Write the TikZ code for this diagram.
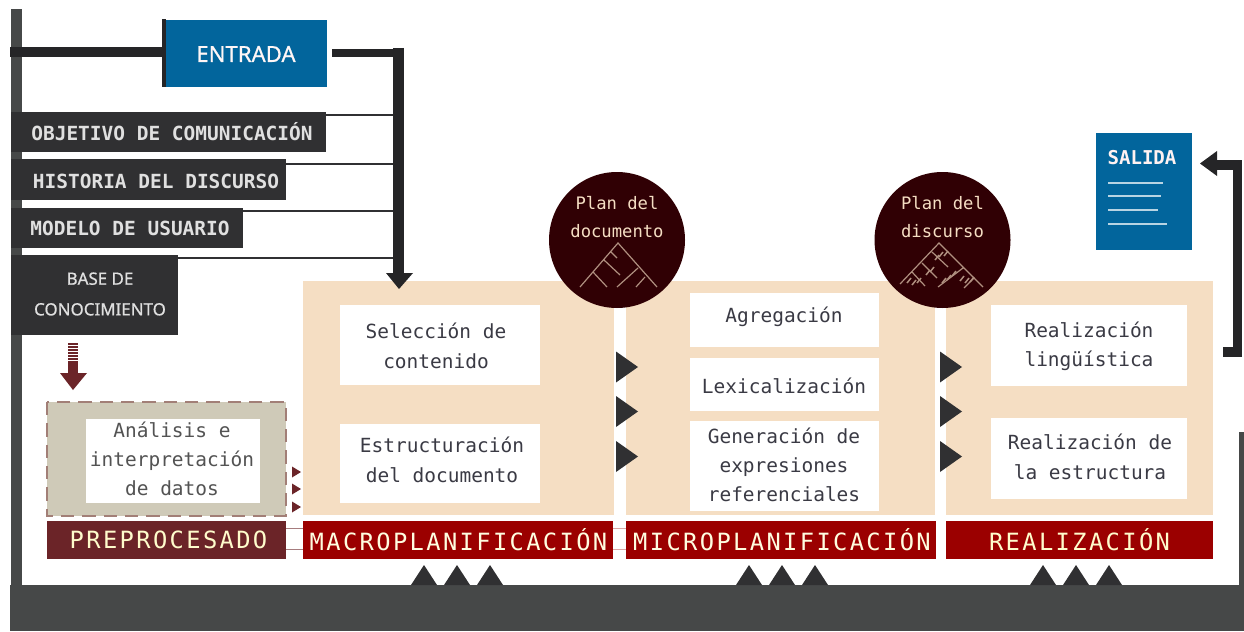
\documentclass[tikz,border=0pt]{standalone}
\usepackage{fontspec}
\setmonofont{DejaVu Sans Mono}
\setsansfont{Noto Sans}
\usetikzlibrary{arrows.meta}
\definecolor{blu}{HTML}{02659C}
\definecolor{drk}{HTML}{303032}
\definecolor{blk}{HTML}{252527}
\definecolor{bar}{HTML}{464848}
\definecolor{pch}{HTML}{F5DEC3}
\definecolor{red1}{HTML}{9B0000}
\definecolor{mar}{HTML}{6B2428}
\definecolor{kha}{HTML}{CFCAB8}
\definecolor{crc}{HTML}{300004}
\definecolor{txt}{HTML}{3A3A44}
\tikzset{
 x=0.75pt,y=-0.75pt,
 lab/.style={font=\ttfamily\fontsize{14.6}{22}\selectfont,text=#1,align=center,inner sep=0pt},
 lab/.default=txt,
 darklab/.style={text=white!88!black,inner sep=0pt,font=\ttfamily\bfseries\fontsize{14.6}{22}\selectfont},
 circlab/.style={text=pch,inner sep=0pt,align=center,font=\ttfamily\fontsize{12.9}{21}\selectfont},
 barlab/.style={font=\ttfamily\fontsize{17.8}{24}\selectfont\addfontfeature{LetterSpace=10},text=#1,inner sep=0pt},
 thinlink/.style={draw=drk,line width=1.1pt},
 treeline/.style={draw=pch!65!crc,line width=.9pt},
 hash/.style={draw=pch!65!crc,line width=1.1pt},
}
\newcommand{\tribup}[1]{\foreach \d in {0,33,66}{\fill[drk] (#1+\d-13,585) -- (#1+\d,565) -- (#1+\d+13,585) -- cycle;}}
\newcommand{\triright}[1]{\foreach \d in {367,411.5,456.5}{\fill[drk] (#1,\d-15.5) -- (#1+22,\d) -- (#1,\d+15.5) -- cycle;}}
\begin{document}
\begin{tikzpicture}
\useasboundingbox (0,0) rectangle (1244,631);
\fill[white] (0,0) rectangle (1244,631);
% left bar and base
\fill[bar] (10.5,9) rectangle (22,590);
\fill[bar] (10,585) rectangle (1244,631);
\fill[bar] (1239,432) rectangle (1244,585);
% input
\fill[blu] (166,20) rectangle (327,87);
\fill[blk] (162,19) rectangle (166,87);
\node (entrada) [font=\sffamily\fontsize{16.6}{20}\selectfont\addfontfeature{FakeBold=0.7},text=white!85!pink,inner sep=0pt] at (246,54) {ENTRADA};
\coordinate (jl) at (10,52);
\coordinate (jr) at (399,53);
\coordinate (je) at (332,53);
\draw[blk,line width=7.5pt] (jl) -- (162,52);
% peach panels
\fill[pch] (303,281) rectangle (614,515);
\fill[pch] (626,281) rectangle (935,515);
\fill[pch] (946,281) rectangle (1213,515);
% thin connectors
\coordinate (t1) at (399,115);
\coordinate (t2) at (399,164);
\coordinate (t3) at (399,211);
\coordinate (t4) at (399,258);
\draw[thinlink] (320,115) -- (t1);
\draw[thinlink] (280,164) -- (t2);
\draw[thinlink] (240,211) -- (t3);
\draw[thinlink] (170,258) -- (t4);
\draw[line width=6pt,blk] (je) -- (jr);
\draw[line width=8pt,blk] (398.5,48) -- (398.5,280);
\fill[blk] (386,273) -- (413,273) -- (399,289) -- cycle;
% left dark boxes
\fill[drk] (10.5,112) rectangle (326,152);
\fill[drk] (10.5,159) rectangle (286,200);
\fill[drk] (10.5,208) rectangle (243,248);
\fill[drk] (10.5,255) rectangle (178,335);
\node (obj) [darklab] at (172,132) {OBJETIVO DE COMUNICACIÓN};
\node (his) [darklab] at (156,181) {HISTORIA DEL DISCURSO};
\node (mod) [darklab] at (130,228) {MODELO DE USUARIO};
\node (bas) [font=\sffamily\fontsize{12.7}{22}\selectfont\addfontfeature{FakeBold=0.7},text=white!88!black,align=center,inner sep=0pt] at (100,294) {BASE DE\\[1pt]CONOCIMIENTO};
% down arrow
\foreach \y in {343,346,...,361}{\fill[mar] (68,\y) rectangle (78,\y+1.8);}
\fill[mar] (68,363) rectangle (78,374);
\fill[mar] (60,373) -- (87,373) -- (73,390) -- cycle;
% preprocessing
\fill[kha] (47,402) rectangle (286,516);
\draw[mar!45!kha,line width=1pt,dash pattern=on 10pt off 6pt] (47,402) rectangle (286,516);
\fill[white] (86,419) rectangle (260,503);
\node (ana) [lab=gray!65!black] at (172,459) {Análisis e\\interpretación\\de datos};
\foreach \y in {472,489,507}{\fill[mar] (292,\y-5.5) -- (301,\y) -- (292,\y+5.5) -- cycle;}
% white boxes
\fill[white] (340,305) rectangle (540,385);
\fill[white] (340,424) rectangle (540,503);
\fill[white] (690,293) rectangle (879,347);
\fill[white] (690,358) rectangle (879,411);
\fill[white] (690,421) rectangle (879,511);
\fill[white] (991,305) rectangle (1187,386);
\fill[white] (991,418) rectangle (1187,499);
\node (sel) [lab] at (436,346) {Selección de\\contenido};
\node (est) [lab] at (442,460) {Estructuración\\del documento};
\node (agr) [lab] at (784,317) {Agregación};
\node (lex) [lab] at (784,386) {Lexicalización};
\node (gen) [lab] at (784,465) {Generación de\\expresiones\\referenciales};
\node (rl) [lab] at (1089,346) {Realización\\lingüística};
\node (re) [lab] at (1090,457) {Realización de\\la estructura};
% arrows between
\triright{616}
\triright{940}
% bars
\fill[mar] (47,521) rectangle (286,559);
\fill[red1] (303,521) rectangle (613,559);
\fill[red1] (626,521) rectangle (936,559);
\fill[red1] (946,521) rectangle (1213,559);
\draw[mar!60!white,line width=.6pt] (286,528) -- (303,528) (286,549) -- (303,549);
\draw[red1!35!white,line width=.6pt] (613,528) -- (626,528) (613,549) -- (626,549);
\node (pre) [barlab=white!80!yellow] at (168.5,540) {PREPROCESADO};
\node (mac) [barlab=white!88!yellow] at (458.5,540) {MACROPLANIFICACIÓN};
\node (mic) [barlab=white!88!yellow] at (782,540) {MICROPLANIFICACIÓN};
\node (rea) [barlab=white!80!yellow] at (1079.5,540) {REALIZACIÓN};
% up triangles
\tribup{424}
\tribup{749}
\tribup{1043}
% circles
\fill[crc] (617,240) circle (68);
\fill[crc] (942.5,240) circle (68);
\node (c1) [circlab] at (617,217) {Plan del\\documento};
\node (c2) [circlab] at (942.5,217) {Plan del\\discurso};
\draw[treeline] (580,287) -- (618,243) -- (657,287)
 (593,272) -- (607,287) (604,260) -- (620,275)
 (638,268) -- (617,287) (645,277) -- (636,287) (611,252) -- (617,258);
\draw[treeline] (900,284) -- (939,243) -- (983,287)
 (922,263) -- (937,278) (932,252) -- (948,267) (963,268) -- (938,287)
 (912,272) -- (925,286) (974,278) -- (964,288);
\foreach \a/\b in {907/283,912/285,917/283,942/283,947/280,952/276,960/281,965/283,970/282,926/275,930/272,935/260,939/257,944/256}{\draw[hash] (\a,\b) -- (\a+4,\b-5);}
% output
\fill[blu] (1096,133) rectangle (1192,250);
\node (sal) [font=\ttfamily\bfseries\fontsize{14.3}{16}\selectfont,text=white!80!pink,inner sep=0pt] at (1142,158) {SALIDA};
\foreach \a/\b in {183/1163,196/1161,210/1158,224/1167}{\draw[white!72!blu,line width=1pt] (1108,\a) -- (\b,\a);}
\coordinate (o1) at (1237.5,352);
\coordinate (o2) at (1237.5,165);
\draw[blk,line width=7pt] (1223,352) -- (o1) -- (o2) -- (1214,165);
\fill[blk] (1200,163.5) -- (1217,151) -- (1217,176) -- cycle;
\end{tikzpicture}
\end{document}
